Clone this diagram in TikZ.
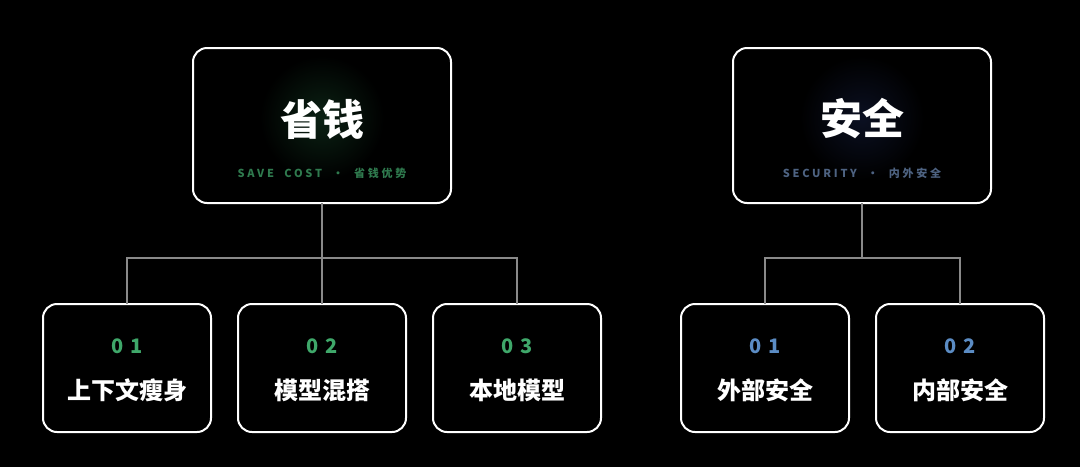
\documentclass[tikz,border=0pt]{standalone}
\usepackage{fontspec}
\newfontfamily\cjk{Noto Sans CJK SC}
\newfontfamily\cjksp{Noto Sans CJK SC}[LetterSpace=25]
\newfontfamily\cjknum{Noto Sans CJK SC}[LetterSpace=30]
\definecolor{bgc}{HTML}{000000}
\definecolor{linec}{HTML}{8A8A8A}
\definecolor{greenc}{HTML}{3FA86A}
\definecolor{greensub}{HTML}{2F7A4E}
\definecolor{bluec}{HTML}{5B8CC4}
\definecolor{bluesub}{HTML}{4E6382}
\definecolor{greenglow}{HTML}{0B2214}
\definecolor{blueglow}{HTML}{0B1022}
\tikzset{
  box/.style={draw=white, line width=2pt, rounded corners=14pt},
  conn/.style={draw=linec, line width=2pt},
  title/.style={font=\cjk\bfseries\fontsize{42}{44}\selectfont, text=white},
  subg/.style={font=\cjksp\bfseries\fontsize{11}{12}\selectfont, text=greensub},
  subb/.style={font=\cjksp\bfseries\fontsize{11}{12}\selectfont, text=bluesub},
  numg/.style={font=\cjknum\bfseries\fontsize{20}{22}\selectfont, text=greenc},
  numb/.style={font=\cjknum\bfseries\fontsize{20}{22}\selectfont, text=bluec},
  lab/.style={font=\cjk\bfseries\fontsize{24}{26}\selectfont, text=white},
}
\begin{document}
\begin{tikzpicture}[x=1pt,y=-1pt]
\fill[bgc] (0,0) rectangle (1080,467);
\useasboundingbox (0,0) rectangle (1080,467);
% glows
\shade[inner color=greenglow, outer color=black] (322,118) circle (62);
\shade[inner color=blueglow, outer color=black] (862,118) circle (62);
% top boxes
\path[box] (193,48) rectangle (451,203);
\path[box] (733,48) rectangle (991,203);
\node[draw=none, minimum width=258pt, minimum height=155pt] (Abox) at (322,125.5) {};
\node[draw=none, minimum width=258pt, minimum height=155pt] (Bbox) at (862,125.5) {};
\node[title] (t1) at (322,119) {省钱};
\node[title] (t2) at (862,119) {安全};
\node[subg] (s1) at (322,173) {SAVE\ \ COST\ \ ·\ \ 省钱优势};
\node[subb] (s2) at (862,173) {SECURITY\ \ ·\ \ 内外安全};
% bottom boxes
\foreach \n/\x in {c1/127,c2/322,c3/517,d1/765,d2/960}{
  \path[box] (\x-84,304) rectangle (\x+84,432);
  \node[draw=none, minimum width=168pt, minimum height=128pt] (\n) at (\x,368) {};
}
\node[numg] (n1) at (127,346) {01};
\node[numg] (n2) at (322,346) {02};
\node[numg] (n3) at (517,346) {03};
\node[numb] (n4) at (765,346) {01};
\node[numb] (n5) at (960,346) {02};
\node[lab] (l1) at (127,390) {上下文瘦身};
\node[lab] (l2) at (322,390) {模型混搭};
\node[lab] (l3) at (517,390) {本地模型};
\node[lab] (l4) at (765,390) {外部安全};
\node[lab] (l5) at (960,390) {内部安全};
% connectors
\coordinate (ja) at (322,258);
\coordinate (jb) at (862,258);
\draw[conn] (Abox.south) -- (ja);
\draw[conn] (c1.north) |- (ja) -| (c3.north);
\draw[conn] (ja) -- (c2.north);
\draw[conn] (Bbox.south) -- (jb);
\draw[conn] (d1.north) |- (jb) -| (d2.north);
\end{tikzpicture}
\end{document}
